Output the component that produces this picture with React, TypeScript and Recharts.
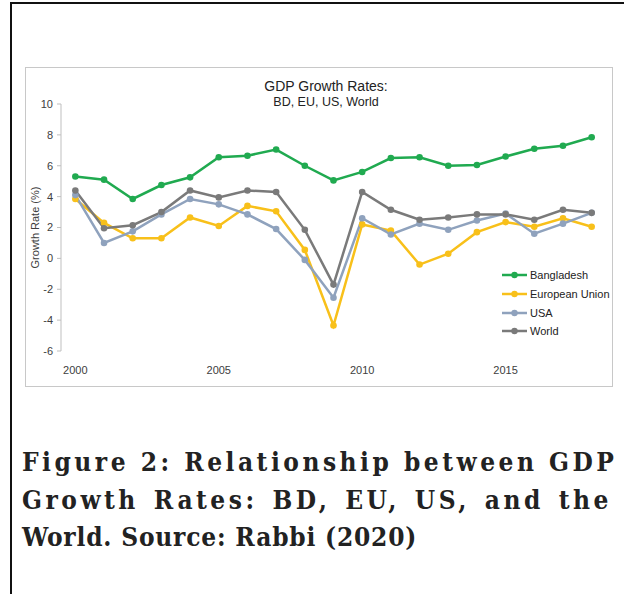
import { LineChart, Line, XAxis, YAxis } from 'recharts'

const years = [2000, 2001, 2002, 2003, 2004, 2005, 2006, 2007, 2008, 2009, 2010, 2011, 2012, 2013, 2014, 2015, 2016, 2017, 2018]
const bangladesh = [5.3, 5.1, 3.85, 4.75, 5.25, 6.55, 6.65, 7.05, 6.0, 5.05, 5.6, 6.5, 6.55, 6.0, 6.05, 6.6, 7.1, 7.3, 7.85]
const europeanUnion = [3.85, 2.3, 1.3, 1.3, 2.65, 2.1, 3.4, 3.05, 0.55, -4.35, 2.2, 1.8, -0.4, 0.3, 1.7, 2.35, 2.05, 2.6, 2.05]
const usa = [4.1, 1.0, 1.75, 2.85, 3.85, 3.5, 2.85, 1.9, -0.1, -2.55, 2.6, 1.55, 2.25, 1.85, 2.45, 2.9, 1.6, 2.25, 2.95]
const world = [4.4, 1.95, 2.15, 3.0, 4.4, 3.95, 4.4, 4.3, 1.85, -1.7, 4.3, 3.15, 2.5, 2.65, 2.85, 2.85, 2.5, 3.15, 2.95]

const yTicks = [-6, -4, -2, 0, 2, 4, 6, 8, 10]
const xTicks = [2000, 2005, 2010, 2015]

const series = [
  { key: 'bangladesh', name: 'Bangladesh', color: '#20aa50' },
  { key: 'eu', name: 'European Union', color: '#f8c01a' },
  { key: 'usa', name: 'USA', color: '#8fa2bd' },
  { key: 'world', name: 'World', color: '#7a7a7a' },
]

const data = years.map((year, i) => ({
  year,
  bangladesh: bangladesh[i],
  eu: europeanUnion[i],
  usa: usa[i],
  world: world[i],
}))

const font = '"Liberation Sans", Arial, sans-serif'
const captionFont = '"DejaVu Serif Condensed", "DejaVu Serif", serif'

function Legend() {
  return (
    <div style={{ position: 'absolute', left: 502, top: 266, fontFamily: font, fontSize: 11, color: '#222' }}>
      {series.map((s) => (
        <div key={s.key} style={{ display: 'flex', alignItems: 'center', height: 18.7 }}>
          <svg width={26} height={8} style={{ marginRight: 2 }}>
            <line x1={0} y1={4} x2={25} y2={4} stroke={s.color} strokeWidth={2.5} />
            <circle cx={12.5} cy={4} r={3.2} fill={s.color} />
          </svg>
          <span>{s.name}</span>
        </div>
      ))}
    </div>
  )
}

export default function App() {
  const captionLine = {
    position: 'absolute' as const,
    left: 22,
    width: 590,
    fontFamily: captionFont,
    fontStretch: 'condensed',
    fontWeight: 'bold' as const,
    fontSize: 26,
    lineHeight: '30px',
    color: '#222',
    whiteSpace: 'nowrap' as const,
  }
  return (
    <div style={{ position: 'absolute', left: 0, top: 0, width: 624, height: 594, background: '#fff' }}>
      <div
        style={{
          position: 'absolute',
          left: 10,
          top: 2,
          width: 614,
          height: 592,
          borderTop: '2px solid #111',
          borderLeft: '2px solid #111',
        }}
      />
      <div
        style={{
          position: 'absolute',
          left: 25,
          top: 67,
          width: 586,
          height: 318,
          border: '1px solid #c8c8c8',
        }}
      >
        <LineChart width={586} height={318} data={data} margin={{ top: 36, right: 6, left: 0, bottom: 0 }}>
          <XAxis
            dataKey="year"
            type="number"
            domain={[1999.5, 2018.5]}
            ticks={xTicks}
            axisLine={false}
            tickLine={false}
            tickMargin={9}
            height={35}
            tick={{ fontSize: 11, fill: '#404040', fontFamily: font }}
          />
          <YAxis
            domain={[-6, 10]}
            ticks={yTicks}
            width={35}
            tickSize={4}
            tickMargin={4}
            axisLine={{ stroke: '#bfbfbf' }}
            tickLine={{ stroke: '#bfbfbf' }}
            tick={{ fontSize: 11, fill: '#404040', fontFamily: font }}
            label={{
              value: 'Growth Rate (%)',
              angle: -90,
              position: 'center',
              dx: -8,
              style: { fontSize: 11, fill: '#404040', fontFamily: font },
            }}
          />
          {series.map((s) => (
            <Line
              key={s.key}
              dataKey={s.key}
              name={s.name}
              stroke={s.color}
              strokeWidth={2.5}
              dot={{ r: 3.3, fill: s.color, stroke: 'none' }}
              activeDot={false}
              isAnimationActive={false}
            />
          ))}
        </LineChart>
        <div
          style={{
            position: 'absolute',
            left: 0,
            width: 586,
            top: 10,
            textAlign: 'center',
            fontFamily: font,
            fontSize: 14,
            color: '#222',
            lineHeight: '16px',
          }}
        >
          <div style={{ position: 'relative', left: 7 }}>GDP Growth Rates:</div>
          <div style={{ position: 'relative', left: 7, fontSize: 12.5 }}>BD, EU, US, World</div>
        </div>
      </div>
      <Legend />
      <div style={{ ...captionLine, top: 447, textAlign: 'justify', textAlignLast: 'justify', letterSpacing: 3.5 }}>
        Figure 2: Relationship between GDP
      </div>
      <div style={{ ...captionLine, top: 485, textAlign: 'justify', textAlignLast: 'justify', letterSpacing: 3.5 }}>
        Growth Rates: BD, EU, US, and the
      </div>
      <div style={{ ...captionLine, top: 522, letterSpacing: 0.8 }}>World. Source: Rabbi (2020)</div>
    </div>
  )
}
